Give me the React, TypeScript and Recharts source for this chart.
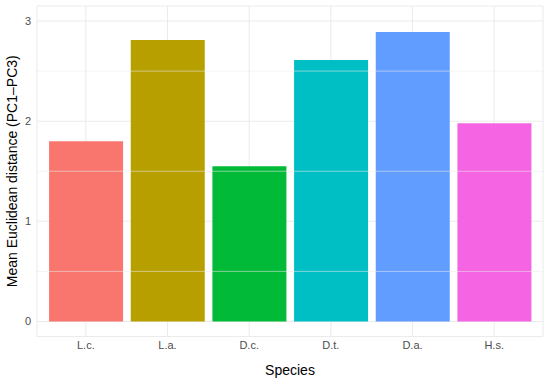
import { BarChart, Bar, Cell, XAxis, YAxis, CartesianGrid, ReferenceLine, Label } from 'recharts';

const species = ['L.c.', 'L.a.', 'D.c.', 'D.t.', 'D.a.', 'H.s.'];
const meanDistance = [1.8, 2.81, 1.55, 2.61, 2.89, 1.98];
const yTicks = [0, 1, 2, 3];
const yMinorTicks = [0.5, 1.5, 2.5];

const COLORS = ['#F8766D', '#B79F00', '#00BA38', '#00BFC4', '#619CFF', '#F564E3'];

const data = species.map((name, i) => ({ name, value: meanDistance[i] }));

const FONT = '"Liberation Sans", Arial, Helvetica, sans-serif';

export default function App() {
  return (
    <div style={{ width: 550, height: 383, background: '#fff' }}>
      <style>{'body{margin:0}'}</style>
      <BarChart
        width={550}
        height={383}
        data={data}
        margin={{ top: 6, right: 7, left: 0, bottom: 0 }}
        barCategoryGap="5%"
        style={{ fontFamily: FONT }}
      >
        <CartesianGrid stroke="#EBEBEB" strokeWidth={1.07} />
        {yMinorTicks.map((t) => (
          <ReferenceLine key={t} y={t} stroke="#EBEBEB" strokeWidth={0.55} />
        ))}
        <XAxis
          dataKey="name"
          height={46.5}
          padding={{ left: 8, right: 8 }}
          axisLine={false}
          tickLine={false}
          tickSize={0}
          tickMargin={5}
          tick={{ fill: '#4D4D4D', fontSize: 11 }}
        >
          <Label value="Species" position="insideBottom" offset={8} style={{ fill: '#000', fontSize: 14 }} />
        </XAxis>
        <YAxis
          type="number"
          domain={[-0.15, 3.15]}
          ticks={yTicks}
          width={37}
          axisLine={false}
          tickLine={false}
          tickSize={0}
          tickMargin={6}
          tick={{ fill: '#4D4D4D', fontSize: 11 }}
        >
          <Label
            value="Mean Euclidean distance (PC1–PC3)"
            angle={-90}
            position="insideLeft"
            offset={12}
            style={{ textAnchor: 'middle', fill: '#000', fontSize: 14 }}
          />
        </YAxis>
        <Bar dataKey="value" isAnimationActive={false}>
          {data.map((entry, index) => (
            <Cell key={`cell-${index}`} fill={COLORS[index % COLORS.length]} />
          ))}
        </Bar>
      </BarChart>
    </div>
  );
}
